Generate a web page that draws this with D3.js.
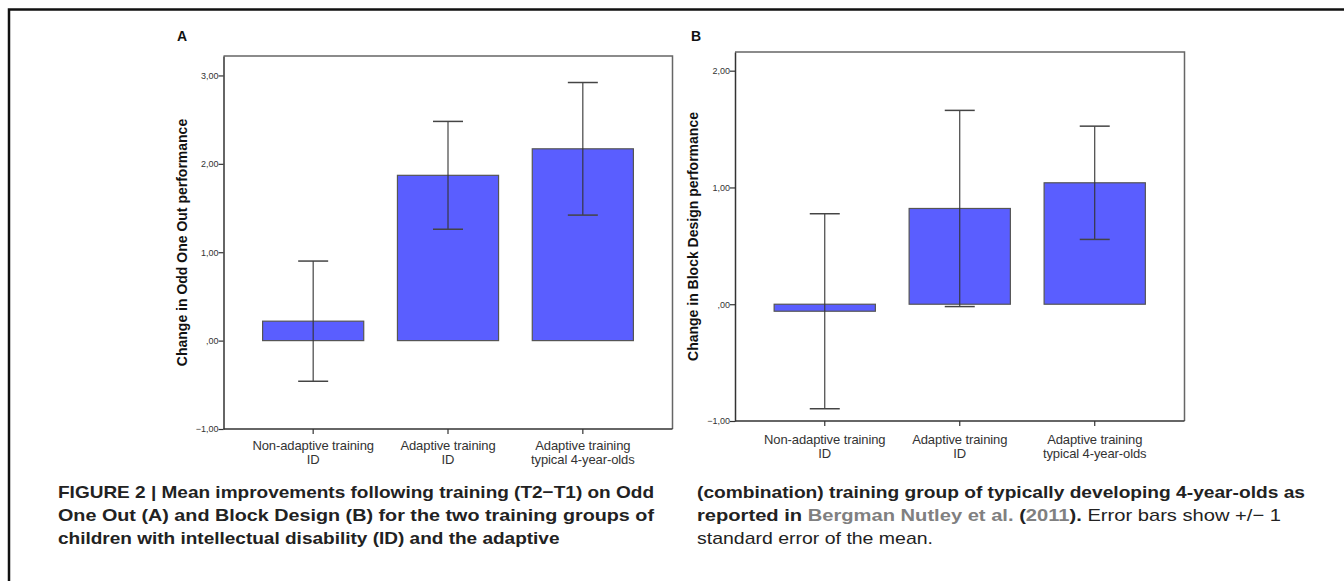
<!DOCTYPE html>
<html>
<head>
<meta charset="utf-8">
<script src="https://cdn.jsdelivr.net/npm/d3@7"></script>
<style>
  html, body { margin: 0; padding: 0; background: #fff; }
  svg { display: block; }
</style>
</head>
<body>
<svg id="fig" width="1344" height="581"></svg>
<script>
// ===== DATA =====
const groups = [
  ['Non-adaptive training', 'ID'],
  ['Adaptive training', 'ID'],
  ['Adaptive training', 'typical 4-year-olds'],
];
const meansA = [0.22, 1.87, 2.17];
const seA = [0.68, 0.61, 0.75];
const meansB = [-0.06, 0.82, 1.04];
const seB = [0.835, 0.84, 0.485];
const ticksA = [-1, 0, 1, 2, 3];
const ticksB = [-1, 0, 1, 2];

const captionLeft = [
  'FIGURE 2 | Mean improvements following training (T2\u2212T1) on Odd',
  'One Out (A) and Block Design (B) for the two training groups of',
  'children with intellectual disability (ID) and the adaptive',
];

const svg = d3.select('#fig');
const BAR = '#5a5eff';
const INK = '#333';
const SANS = 'Liberation Sans, Arial, sans-serif';

// outer figure frame (top + left)
svg.append('path')
  .attr('d', 'M9,581 V9.5 H1344')
  .attr('fill', 'none')
  .attr('stroke', '#111')
  .attr('stroke-width', 2.5);

const fmt = d => d === 0 ? ',00' : d3.format('.2f')(d).replace('.', ',');

function panel(opts) {
  const { x0, x1, y0, y1, top, means, se, ticks, title, letter, lx, ly, tx, catY } = opts;
  const g = svg.append('g');

  const y = d3.scaleLinear().domain([-1, top]).range([y1, y0]);
  const x = d3.scaleBand().domain(d3.range(groups.length))
    .range([x0, x1]).paddingInner(0.25).paddingOuter(0.29);

  // top + right frame
  g.append('path')
    .attr('d', `M${x0},${y0} H${x1} V${y1}`)
    .attr('fill', 'none').attr('stroke', '#666').attr('stroke-width', 1.5);

  // bars
  g.selectAll('rect.bar').data(means).join('rect')
    .attr('class', 'bar')
    .attr('x', (d, i) => x(i))
    .attr('width', x.bandwidth())
    .attr('y', d => y(Math.max(0, d)))
    .attr('height', d => Math.abs(y(d) - y(0)))
    .attr('fill', BAR)
    .attr('stroke', '#555')
    .attr('stroke-width', 1.2);

  // error bars
  const eb = g.selectAll('g.eb').data(means).join('g').attr('class', 'eb');
  const cx = i => x(i) + x.bandwidth() / 2;
  eb.append('line')
    .attr('x1', (d, i) => cx(i)).attr('x2', (d, i) => cx(i))
    .attr('y1', (d, i) => y(d + se[i])).attr('y2', (d, i) => y(d - se[i]))
    .attr('stroke', INK).attr('stroke-width', 1.1);
  [1, -1].forEach(s => {
    eb.append('line')
      .attr('x1', (d, i) => cx(i) - 15).attr('x2', (d, i) => cx(i) + 15)
      .attr('y1', (d, i) => y(d + s * se[i])).attr('y2', (d, i) => y(d + s * se[i]))
      .attr('stroke', '#444').attr('stroke-width', 1.5);
  });

  // y axis
  const ya = g.append('g')
    .attr('transform', `translate(${x0},0)`)
    .call(d3.axisLeft(y).tickValues(ticks).tickFormat(fmt).tickSize(5).tickSizeOuter(0));
  ya.select('.domain').attr('stroke', INK).attr('stroke-width', 1.5);
  ya.selectAll('.tick line').attr('stroke', INK).attr('stroke-width', 1.2);
  ya.selectAll('.tick text')
    .attr('x', -5)
    .attr('fill', INK)
    .style('font-family', SANS)
    .style('font-size', '9px');

  // x axis
  const xa = g.append('g')
    .attr('transform', `translate(0,${y1})`)
    .call(d3.axisBottom(x).tickSize(5).tickSizeOuter(0).tickFormat(''));
  xa.select('.domain').attr('stroke', INK).attr('stroke-width', 1.5)
    .attr('d', `M${x0},0H${x1}`);
  xa.selectAll('.tick line').attr('stroke', INK).attr('stroke-width', 1.2);

  // category labels
  g.selectAll('text.cat').data(groups).join('text')
    .attr('class', 'cat')
    .attr('text-anchor', 'middle')
    .attr('fill', INK)
    .style('font-family', SANS)
    .style('font-size', '13px')
    .style('letter-spacing', '-0.1px')
    .each(function (d, i) {
      const t = d3.select(this);
      d.forEach((line, k) => {
        t.append('tspan')
          .attr('x', cx(i))
          .attr('y', catY + k * 14)
          .text(line);
      });
    });

  // y title
  g.append('text')
    .attr('transform', `translate(${tx},${(y0 + y1) / 2}) rotate(-90)`)
    .attr('text-anchor', 'middle')
    .attr('dy', '0.35em')
    .attr('fill', '#111')
    .style('font-family', SANS)
    .style('font-weight', '700')
    .style('font-size', '14px')
    .text(title);

  // panel letter
  g.append('text')
    .attr('x', lx).attr('y', ly)
    .attr('text-anchor', 'middle')
    .attr('fill', '#111')
    .style('font-family', SANS)
    .style('font-weight', '700')
    .style('font-size', '14px')
    .text(letter);
}

panel({
  x0: 223.5, x1: 672.5, y0: 56, y1: 429, top: 3.22,
  means: meansA, se: seA, ticks: ticksA,
  title: 'Change in Odd One Out performance',
  letter: 'A', lx: 182, ly: 41, tx: 182.5, catY: 450,
});

panel({
  x0: 735, x1: 1184.5, y0: 52, y1: 421, top: 2.16,
  means: meansB, se: seB, ticks: ticksB,
  title: 'Change in Block Design performance',
  letter: 'B', lx: 696, ly: 41, tx: 693, catY: 443.5,
});

// ===== CAPTION =====
// condensed look: Arial-like glyphs squeezed to the column measure
const cap = svg.append('g')
  .style('font-family', SANS)
  .style('font-size', '17px')
  .attr('fill', '#222');

const lineY = [498, 521, 544];

const leftLines = captionLeft.map((line, k) => cap.append('text')
  .attr('x', 58).attr('y', lineY[k])
  .style('font-weight', '700')
  .text(line));

// squeeze factor from the first (justified) line, last line keeps same squeeze
const squeeze = 596 / leftLines[0].node().getComputedTextLength();
leftLines.forEach((t, k) => {
  const w = k < 2 ? 596 : t.node().getComputedTextLength() * squeeze;
  t.attr('textLength', w).attr('lengthAdjust', 'spacingAndGlyphs');
});

const rx = 697;
cap.append('text')
  .attr('x', rx).attr('y', lineY[0])
  .style('font-weight', '700')
  .attr('textLength', 608).attr('lengthAdjust', 'spacingAndGlyphs')
  .text('(combination) training group of typically developing 4-year-olds as');

const l2 = cap.append('text')
  .attr('x', rx).attr('y', lineY[1])
  .attr('textLength', 584).attr('lengthAdjust', 'spacingAndGlyphs');
l2.append('tspan').style('font-weight', '700').text('reported in ');
l2.append('tspan').style('font-weight', '700').attr('fill', '#808080').text('Bergman Nutley et al.');
l2.append('tspan').style('font-weight', '700').text(' (');
l2.append('tspan').style('font-weight', '700').attr('fill', '#808080').text('2011');
l2.append('tspan').style('font-weight', '700').text(').');
l2.append('tspan').text(' Error bars show +/\u2212 1');

cap.append('text')
  .attr('x', rx).attr('y', lineY[2])
  .attr('textLength', 236).attr('lengthAdjust', 'spacingAndGlyphs')
  .text('standard error of the mean.');
</script>
</body>
</html>
